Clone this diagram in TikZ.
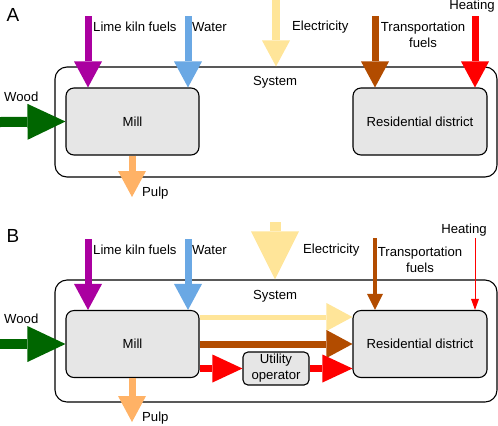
\documentclass[tikz,border=0pt]{standalone}
\usepackage{fontspec}
\setmainfont{Liberation Sans}
\usetikzlibrary{arrows.meta}
\usetikzlibrary{positioning}
\definecolor{kilncol}{RGB}{170,0,160}
\definecolor{watercol}{RGB}{106,168,228}
\definecolor{eleccol}{RGB}{255,229,153}
\definecolor{fuelcol}{RGB}{178,76,0}
\definecolor{heatcol}{RGB}{255,0,0}
\definecolor{woodcol}{RGB}{0,102,0}
\definecolor{pulpcol}{RGB}{255,178,102}
\definecolor{boxgray}{RGB}{230,230,230}

\begin{document}
\begin{tikzpicture}[x=1bp, y=-1bp,
every node/.style={font=\fontsize{13.2}{16}\selectfont},
sysbox/.style={draw, line width=1.1bp, rounded corners=12bp, minimum width=442bp},
unit/.style={draw, fill=boxgray, line width=1.1bp, rounded corners=8bp, minimum width=133bp, minimum height=67bp},
lbl/.style={inner sep=0pt},
panel/.style={inner sep=0pt, font=\fontsize{19}{22}\selectfont},
flow/.style={line width=7bp, -{Triangle[width=28bp, length=26bp, line width=0pt]}},
wideflow/.style={line width=10bp, -{Triangle[width=36bp, length=38bp, line width=0pt]}}]
\useasboundingbox (0,0) rectangle (498,425);

% panel A
\node[sysbox, minimum height=110bp] (sysA) at (276,122){};
\node[unit] (millA) at (132.5,121.5){Mill};
\node[unit, minimum width=134bp] (resA) at (420,121.5){Residential district};
\node[panel] (A) at (13,15){A};
\coordinate (kilnA) at (88,16);
\coordinate (waterA) at (188,16);
\coordinate (elecA) at (276,0);
\coordinate (fuelA) at (375,16);
\coordinate (heatA) at (475,16);
\coordinate (woodA) at (0,122);
\coordinate (pulpA) at (132,197);
\foreach \i/\c/\j in {kilnA/kilncol/millA, waterA/watercol/millA, fuelA/fuelcol/resA, heatA/heatcol/resA}{
\draw[flow, \c] (\i) -- (\j.north -| \i);}
\draw[flow, line width=8bp, eleccol] (elecA) -- (sysA.north -| elecA);
\draw[wideflow, woodcol] (woodA) -- (millA.west);
\draw[flow, pulpcol] (millA.south -| pulpA) -- (pulpA);
\node[lbl, anchor=west] (kilnlA) at (93,27){Lime kiln fuels};
\node[lbl, anchor=west] (waterlA) at (192,27){Water};
\node[lbl, anchor=west] (eleclA) at (292,27){Electricity};
\node[lbl, align=center] (fuellA) at (423,35){Transportation\\fuels};
\node[lbl] (heatlA) at (472,6){Heating};
\node[lbl, anchor=west] (syslA) at (253,82){System};
\node[lbl, anchor=west] (woodlA) at (4,97){Wood};
\node[lbl, anchor=west] (pulplA) at (142,193){Pulp};

% panel B
\node[sysbox, minimum height=122bp] (sysB) at (276,341){};
\node[unit] (millB) at (132.5,344){Mill};
\node[unit, minimum width=134bp] (resB) at (420,344){Residential district};
\node[unit, minimum width=66bp, minimum height=33bp, rounded corners=5bp, inner sep=1bp, align=center] (utilB) at (276,368.5){Utility\\operator};
\node[panel] (B) at (13,236){B};
\coordinate (kilnB) at (88,239);
\coordinate (waterB) at (188,239);
\coordinate (elecB) at (275,222);
\coordinate (fuelB) at (375,238);
\coordinate (heatB) at (475,238);
\coordinate (woodB) at (0,344);
\coordinate (pulpB) at (132,422);
\foreach \i/\c in {kilnB/kilncol, waterB/watercol}{
\draw[flow, \c] (\i) -- (millB.north -| \i);}
\draw[eleccol, line width=11bp, -{Triangle[width=48bp, length=48bp, line width=0pt]}] (elecB) -- (sysB.north -| elecB);
\draw[fuelcol, line width=4bp, -{Triangle[width=16bp, length=16bp, line width=0pt]}] (fuelB) -- (resB.north -| fuelB);
\draw[heatcol, line width=1bp, -{Triangle[width=8bp, length=11bp, line width=0pt]}] (heatB) -- (resB.north -| heatB);
\draw[wideflow, woodcol] (woodB) -- (millB.west);
\draw[flow, pulpcol] (millB.south -| pulpB) -- (pulpB);
\draw[flow, line width=5bp, eleccol] ([yshift=27bp]millB.east) -- ([yshift=27bp]resB.west);
\draw[flow, fuelcol] (millB.east) -- (resB.west);
\draw[flow, heatcol, -{Triangle[width=28bp, length=30bp, line width=0pt]}] (millB.east |- utilB.west) -- (utilB.west);
\draw[flow, heatcol, -{Triangle[width=28bp, length=30bp, line width=0pt]}] (utilB.east) -- (resB.west |- utilB.east);
\node[lbl, anchor=west] (kilnlB) at (93,250){Lime kiln fuels};
\node[lbl, anchor=west] (waterlB) at (192,250){Water};
\node[lbl, anchor=west] (eleclB) at (303,250){Electricity};
\node[lbl, align=center] (fuellB) at (420,260){Transportation\\fuels};
\node[lbl] (heatlB) at (464,230){Heating};
\node[lbl, anchor=west] (syslB) at (253,296){System};
\node[lbl, anchor=west] (woodlB) at (4,319){Wood};
\node[lbl, anchor=west] (pulplB) at (142,418){Pulp};
\end{tikzpicture}
\end{document}
